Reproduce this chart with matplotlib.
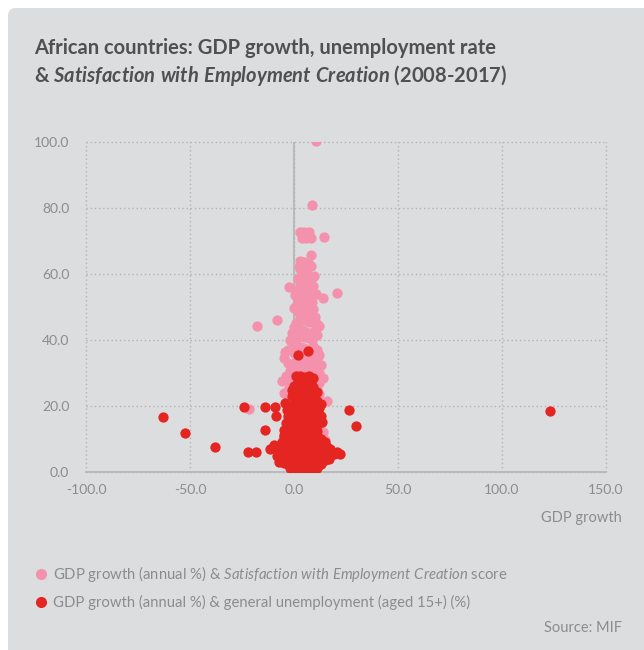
import matplotlib.pyplot as plt
from matplotlib.patches import FancyBboxPatch
from matplotlib.lines import Line2D

plt.rcParams['font.family'] = ['Lato', 'DejaVu Sans']
plt.rcParams['axes.unicode_minus'] = False
plt.rcParams['mathtext.fontset'] = 'custom'
plt.rcParams['mathtext.it'] = 'Lato:italic'
plt.rcParams['mathtext.bf'] = 'Lato:italic:bold'

# GDP growth (annual %) vs Satisfaction with Employment Creation score
sat_gdp = [10.5, 8.5, 3, 5, 7, 4, 6, 8, 14.5, 8.3,
           3, 5, 7, 2.5, 4, 6, 8, 3.5, 5.5, 9.5,
           2, 4, 6, 8, 3, 5, 7, 1, 9, -2.3, 4.5, 6.5,
           0.5, 2.5, 4.5, 6.5, 8.5, 10.5, 13.8, 20.5, 3, 5, 7, 1.5, 0, 9,
           2, 4, 6, 8, 10, 3, 5, 7, 1, 9, 11, -8.3, 12, -18,
           0, 2, 4, 6, 8, 10, 3, 5, 7, 1, 9, -1, 11, -2,
           -1, 1, 3, 5, 7, 9, 11, 2, 4, 6, 8, 10, 0, -3, -4.5, 12,
           -5, -3, -1, 1, 3, 5, 7, 9, 11, 13, 2, 4, 6, 8, 10, -2, 12,
           -6, -4, -2, 0, 2, 4, 6, 8, 10, 12, 14, -3, 1, 5, 9, 11,
           -5, -3, 0, 3, 6, 9, 12, 15.7, -1, 7, 10, -21.5,
           15, -3, 12, 14, 11, 13, -2, 8, 5, 2]
sat_score = [100.3, 81, 72.7, 72.7, 72.7, 71, 71, 71, 71.2, 65.8,
             64, 63.5, 63, 62, 61.5, 61, 62.5, 60.5, 60.2, 59.5,
             58.5, 58, 57.5, 58.2, 56.8, 56, 55.5, 55.2, 56.5, 56, 55, 54.6,
             53.5, 53, 52.5, 52, 51.5, 54, 52.8, 54.3, 51, 50.5, 50.2, 50.8, 49.8, 49.5,
             48.5, 48, 47.5, 48.2, 47, 46.5, 46, 45.5, 45.2, 45.8, 45, 46, 44.2, 44.2,
             44, 43.5, 43, 42.5, 42, 43, 41.5, 41, 40.5, 40.2, 40.5, 42, 41.5, 40,
             39, 38.5, 38, 37.5, 37, 38.2, 37, 36.5, 36, 35.5, 35.2, 35.8, 36, 37, 36.5, 35.5,
             34.5, 33, 32.5, 33.5, 33, 34, 32, 33, 34.5, 32.5, 31, 30.5, 31.2, 30.3, 31, 30.5, 30,
             27.5, 29, 26.5, 28.5, 27, 28, 26, 27.5, 28.5, 27, 28.5, 25, 25.5, 25.2, 25.8, 25,
             24, 22, 23, 21.5, 24, 22.5, 23.5, 21.5, 20.5, 20.2, 20.8, 19,
             9.7, 16, 16, 12, 8, 4, 10, 3, 14, 6]

# GDP growth (annual %) vs general unemployment (aged 15+) (%)
unemp_gdp = [123, -62.8, -52.4, -37.8, -22, -18.4, -24, -13.9, -13.9, -9, -8.7,
             26.6, 29.8, 2, 6.9, -11.5, -9.5, 20.5, 17.3, 13.6, 11.2,
             1, 3, 5, 7, 9, 2, 4, 6, 8, 0, 3, 5, 7, 9, 1, 11, -1,
             -1, 1, 3, 5, 7, 9, 11, 0, 2, 4, 6, 8, 10, 12, -2, 1, 3, 5, 7, 9, 11, 13,
             -4.3, -3.5, 11,
             -3, -1, 1, 3, 5, 7, 9, 11, 13, 0, 2, 4, 6, 8, 10, 12, -2, -4,
             1, 3, 5, 7, 9, 11, -1, -4.8, -5,
             -5, -3, -1, 1, 3, 5, 7, 9, 11, 13, 15, 0, 2, 4, 6, 8, 10, 12, 14,
             -2, -4, -6, 1, 3, 5, 7, 9, 11, 13, 16, 18,
             -8, -6, -4, -2, 0, 2, 4, 6, 8, 10, 12, 14, 16, -5, -3, -1, 1, 3, 5,
             7, 9, 11, 13, 15, -2, 0, 2, 4, 6, 8, 10, 3, -1, 5, 7, -7, -7, -5,
             -4.8, 1.3, 19, 22, 17]
unemp_rate = [18.6, 16.8, 11.9, 7.5, 6, 6, 19.8, 19.8, 12.7, 19.6, 17,
              18.8, 13.9, 35.5, 36.8, 6.9, 8.2, 6, 6.9, 15.2, 1.1,
              29, 29.2, 28.8, 29, 28.5, 27.5, 27, 27.3, 26.8, 26, 25.5, 25, 25.3, 25.8, 24.5, 24.2, 24.8,
              23, 22.5, 23.5, 22, 23, 22.2, 21.5, 20.5, 21, 20, 20.8, 19.5, 20, 19.5, 19, 18.5, 18.2, 18.8, 18, 18.5, 18, 20.5,
              20.9, 18.8, 18.8,
              17, 16.5, 17.5, 16, 17, 16.5, 17.2, 16, 17, 15, 14.5, 15.5, 14, 15, 14.5, 15, 14, 15,
              13, 12.5, 13.5, 12, 13, 12.5, 12.2, 12.7, 11.2,
              10.5, 9, 11, 10, 11.5, 9.5, 10.8, 9.8, 11, 10, 9, 8, 7.5, 8.5, 7, 8.2, 7.5, 8, 7,
              7, 8, 9.2, 6.2, 6.5, 6, 6.3, 6, 6.5, 6.1, 7.5, 6.5,
              5, 4.5, 5.5, 4, 5, 4.5, 5.5, 4, 5, 4.5, 5.2, 4, 5, 3, 2.5, 3.5, 2, 3, 2.5,
              3.2, 2, 3, 2.5, 3.5, 1.2, 1, 0.5, 1.5, 0.8, 1.3, 0.6, 0, 0.2, 0.3, 0.1, 3, 6.7, 5.2,
              2.7, 1.6, 5.5, 5.5, 4]

pink = '#f492ad'
red = '#e52521'
grey_txt = '#8c8c8c'

fig = plt.figure(figsize=(6.44, 6.5), dpi=100, facecolor='white')
panel = FancyBboxPatch((8 / 644, -0.05), 1.0, 1 - 8 / 650 + 0.05,
                       boxstyle='round,pad=0,rounding_size=0.012',
                       transform=fig.transFigure, facecolor='#dcdddf',
                       edgecolor='none', zorder=-10)
fig.add_artist(panel)

fig.text(34 / 644, 1 - 48 / 650, 'African countries: GDP growth, unemployment rate',
         fontsize=14.5, fontweight='bold', color='#505050', va='center')
fig.text(34 / 644, 1 - 75 / 650,
         r'& $\mathbf{Satisfaction\ with\ Employment\ Creation}$ (2008-2017)',
         fontsize=14.5, fontweight='bold', color='#505050', va='center')

ax = fig.add_axes([86 / 644, 1 - 472 / 650, 520 / 644, 330 / 650])
ax.set_facecolor('none')
ax.scatter(sat_gdp, sat_score, s=55, color=pink, linewidths=0, zorder=3)
ax.scatter(unemp_gdp, unemp_rate, s=55, color=red, linewidths=0, zorder=4)

ax.set_xlim(-100, 150)
ax.set_ylim(0, 100)
ax.set_xticks([-100, -50, 0, 50, 100, 150])
ax.set_yticks([0, 20, 40, 60, 80, 100])
ax.xaxis.set_major_formatter('{x:.1f}')
ax.yaxis.set_major_formatter('{x:.1f}')
ax.tick_params(length=0, labelsize=10, labelcolor=grey_txt)
ax.tick_params(axis='y', pad=12)
ax.tick_params(axis='x', pad=9)
ax.grid(True, linestyle=(0, (1, 2)), color='#b3b3b3', linewidth=1, clip_on=False)
for side in ['top', 'right', 'left']:
    ax.spines[side].set_visible(False)
ax.spines['bottom'].set_color('#b8b8b8')
ax.spines['bottom'].set_linewidth(1.3)
ax.axvline(0, color='#bcbcbc', linewidth=1.5, zorder=1)

fig.text(622 / 644, 1 - 518 / 650, 'GDP growth', fontsize=10.5, color=grey_txt,
         ha='right', va='center')

handles = [Line2D([], [], marker='o', linestyle='none', markersize=7, color=pink),
           Line2D([], [], marker='o', linestyle='none', markersize=7, color=red)]
labels = [r'GDP growth (annual %) & $\mathit{Satisfaction\ with\ Employment\ Creation}$ score',
          'GDP growth (annual %) & general unemployment (aged 15+) (%)']
fig.legend(handles, labels, loc='center left', bbox_to_anchor=(30 / 644, 1 - 587 / 650),
           frameon=False, handlelength=0.7, handletextpad=0.45, labelspacing=0.75,
           fontsize=10.7, labelcolor=grey_txt, borderaxespad=0)

fig.text(622 / 644, 1 - 628 / 650, 'Source: MIF', fontsize=10.5, color=grey_txt,
         ha='right', va='center')

fig.savefig('out.png', dpi=100, facecolor='white')
